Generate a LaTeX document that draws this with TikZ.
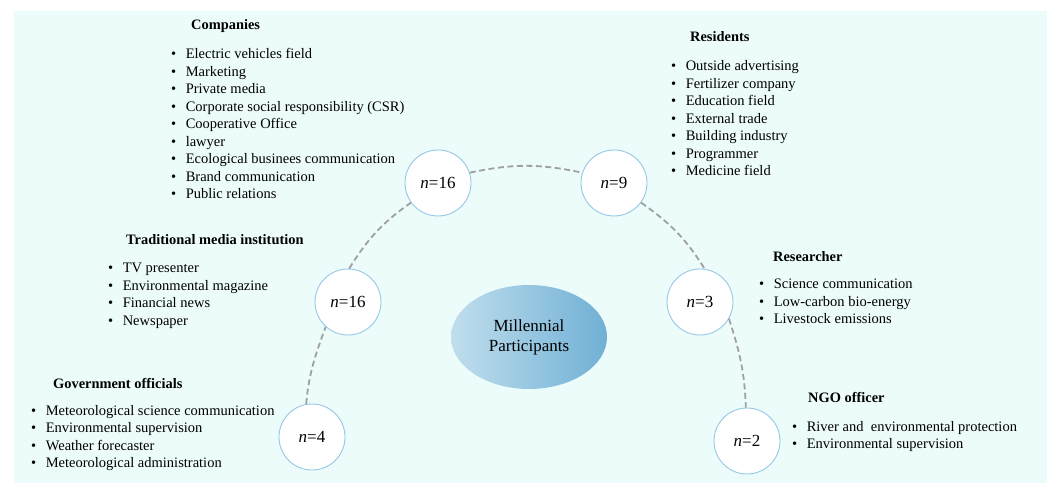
\documentclass[tikz,border=0pt]{standalone}
\usepackage{fontspec}
\setmainfont{Liberation Serif}
\usetikzlibrary{shapes.geometric}
\definecolor{bgmint}{RGB}{236,252,250}
\definecolor{ringblue}{RGB}{150,200,230}
\definecolor{dashgray}{RGB}{160,160,160}
\definecolor{ellleft}{RGB}{192,222,237}
\definecolor{ellright}{RGB}{112,176,213}
\tikzset{
  countnode/.style={circle,draw=ringblue,line width=0.9pt,fill=white,minimum size=66pt,inner sep=0pt,font=\fontsize{17}{20}\selectfont},
  linkline/.style={draw=dashgray,line width=1.8pt,dash pattern=on 6pt off 3.5pt},
  headnode/.style={anchor=base west,inner sep=0pt,font=\fontsize{14.4}{16}\selectfont\bfseries},
  listnode/.style={anchor=base west,inner sep=0pt,font=\fontsize{14.5}{17.5}\selectfont,align=left}
}
\newcommand{\bl}[1]{\begin{tabular}[t]{@{}l@{\hspace{9.5pt}}l@{}}#1\end{tabular}}
\begin{document}
\begin{tikzpicture}[x=1pt,y=1pt]
\useasboundingbox (0,0) rectangle (1052,485);
\fill[white] (0,0) rectangle (1052,485);
\fill[bgmint] (14,2) rectangle (1047,474);

% center ellipse
\node[ellipse,minimum width=156pt,minimum height=104pt,left color=ellleft,right color=ellright,draw=none,align=center,font=\fontsize{17}{20}\selectfont] (mp) at (529,148) {Millennial\\Participants};

% count circles
\node[countnode] (c16t) at (438,302) {\textit{n}=16};
\node[countnode] (c9) at (614,302) {\textit{n}=9};
\node[countnode] (c16l) at (348,183) {\textit{n}=16};
\node[countnode] (c3) at (700,183) {\textit{n}=3};
\node[countnode] (c4) at (312,48) {\textit{n}=4};
\node[countnode] (c2) at (747,44) {\textit{n}=2};

% dashed arc
\draw[linkline] (c4.100) to[out=85,in=250] (c16l.228);
\draw[linkline] (c16l.88) to[out=58,in=215] (c16t.216);
\draw[linkline] (c16t.18) to[out=12,in=168] (c9.162);
\draw[linkline] (c9.-36) to[out=-35,in=122] (c3.82);
\draw[linkline] (c3.-30) to[out=-72,in=92] (c2.92);

% Companies
\node[headnode] (hcomp) at (191,455) {Companies};
\node[listnode] (lcomp) at (171,426) {\bl{%
\textbullet & Electric vehicles field\\
\textbullet & Marketing\\
\textbullet & Private media\\
\textbullet & Corporate social responsibility (CSR)\\
\textbullet & Cooperative Office\\
\textbullet & lawyer\\
\textbullet & Ecological businees communication\\
\textbullet & Brand communication\\
\textbullet & Public relations}};

% Residents
\node[headnode] (hres) at (690,443) {Residents};
\node[listnode] (lres) at (671,414) {\bl{%
\textbullet & Outside advertising\\
\textbullet & Fertilizer company\\
\textbullet & Education field\\
\textbullet & External trade\\
\textbullet & Building industry\\
\textbullet & Programmer\\
\textbullet & Medicine field}};

% Traditional media
\node[headnode] (htrad) at (126,240) {Traditional media institution};
\node[listnode] (ltrad) at (108,212) {\bl{%
\textbullet & TV presenter\\
\textbullet & Environmental magazine\\
\textbullet & Financial news\\
\textbullet & Newspaper}};

% Researcher
\node[headnode] (hresr) at (773,223) {Researcher};
\node[listnode] (lresr) at (759,196) {\bl{%
\textbullet & Science communication\\
\textbullet & Low-carbon bio-energy\\
\textbullet & Livestock emissions}};

% Government officials
\node[headnode] (hgov) at (53,97) {Government officials};
\node[listnode] (lgov) at (31,70) {\bl{%
\textbullet & Meteorological science communication\\
\textbullet & Environmental supervision\\
\textbullet & Weather forecaster\\
\textbullet & Meteorological administration}};

% NGO officer
\node[headnode] (hngo) at (808,83) {NGO officer};
\node[listnode] (lngo) at (792,54) {\bl{%
\textbullet & River and\ \ environmental protection\\
\textbullet & Environmental supervision}};
\end{tikzpicture}
\end{document}
